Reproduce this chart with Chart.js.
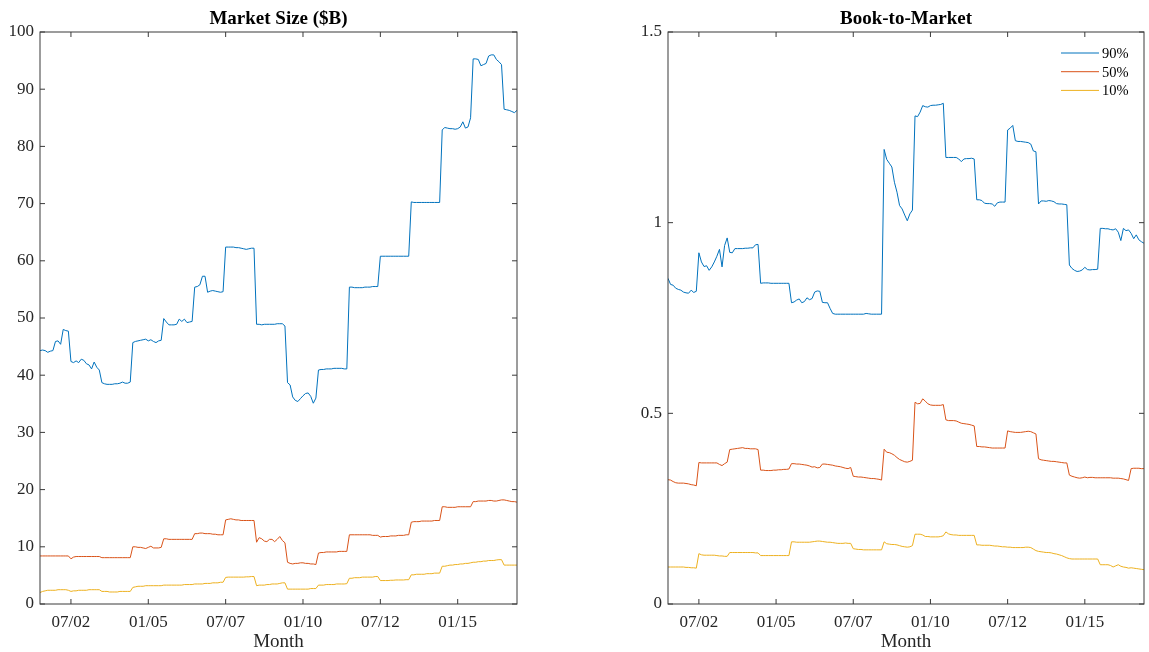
<!DOCTYPE html>
<html>
<head>
<meta charset="utf-8">
<script src="https://cdn.jsdelivr.net/npm/chart.js@4.4.1/dist/chart.umd.min.js"></script>
<style>
  html, body { margin: 0; padding: 0; background: #fff; }
  #wrap { position: relative; width: 1149px; height: 652px; }
  .panel { position: absolute; top: 0; height: 652px; }
  #left { left: 0; width: 560px; }
  #right { left: 580px; width: 569px; }
</style>
</head>
<body>
<div id="wrap">
  <div class="panel" id="left"><canvas id="sizeChart"></canvas></div>
  <div class="panel" id="right"><canvas id="btmChart"></canvas></div>
</div>
<script>
// Series : percentiles 90 / 50 / 10, un point par mois à partir de 07/2001
var seriesNames = ['90%', '50%', '10%'];
var seriesColors = ['#0072BD', '#D95319', '#EDB120'];
var tickLabels = ['07/02', '01/05', '07/07', '01/10', '07/12', '01/15'];

// Market Size ($B)
var size90 = [
  44.3,44.4,44.3,44.0,44.2,44.3,45.9,46.0,45.4,48.0,47.8,47.7,
  42.4,42.2,42.5,42.2,42.8,42.6,42.0,41.8,41.1,42.3,41.4,40.9,
  38.7,38.5,38.4,38.4,38.4,38.5,38.5,38.6,38.8,38.6,38.6,38.8,
  45.7,45.9,46.0,46.1,46.2,46.3,46.0,46.2,45.9,45.7,46.0,46.1,
  49.9,49.3,48.8,48.8,48.8,48.9,49.8,49.4,49.8,49.2,49.3,49.4,
  55.4,55.5,55.8,57.3,57.3,54.5,54.7,54.8,54.7,54.6,54.5,54.6,
  62.4,62.4,62.4,62.4,62.3,62.3,62.2,62.1,62.0,62.1,62.2,62.2,
  48.9,48.9,48.8,48.9,48.9,48.9,48.9,48.9,49.0,49.0,49.0,48.6,
  38.7,38.3,36.2,35.6,35.4,35.9,36.4,36.8,36.9,36.3,35.1,36.0,
  40.9,41.0,41.0,41.1,41.1,41.1,41.2,41.2,41.2,41.2,41.1,41.1,
  55.4,55.4,55.3,55.3,55.3,55.3,55.4,55.4,55.4,55.5,55.5,55.5,
  60.8,60.8,60.8,60.8,60.8,60.8,60.8,60.8,60.8,60.8,60.8,60.8,
  70.3,70.2,70.2,70.2,70.2,70.2,70.2,70.2,70.2,70.2,70.2,70.2,
  82.9,83.3,83.2,83.1,83.1,83.0,83.1,83.4,84.3,83.2,83.4,85.0,
  95.3,95.3,95.2,94.1,94.3,94.5,95.8,96.0,96.0,95.2,94.8,94.3,
  86.5,86.4,86.3,86.1,85.9,86.3
];
var size50 = [
  8.4,8.4,8.4,8.4,8.4,8.4,8.4,8.4,8.4,8.4,8.4,8.4,
  7.9,8.2,8.3,8.3,8.3,8.3,8.3,8.3,8.3,8.3,8.3,8.3,
  8.1,8.1,8.1,8.1,8.1,8.1,8.1,8.1,8.1,8.1,8.1,8.1,
  10.0,10.0,9.9,9.9,9.8,9.7,9.9,10.1,9.8,9.8,9.8,9.9,
  11.4,11.4,11.3,11.3,11.3,11.3,11.3,11.3,11.3,11.3,11.3,11.3,
  12.3,12.3,12.4,12.4,12.3,12.3,12.3,12.2,12.2,12.1,12.1,12.1,
  14.7,14.8,14.9,14.8,14.7,14.7,14.6,14.6,14.6,14.6,14.6,14.6,
  10.8,11.6,11.4,11.0,10.9,11.3,11.3,10.9,11.3,11.8,11.1,10.7,
  7.3,7.1,7.0,7.1,7.1,7.2,7.2,7.1,7.1,7.0,7.0,6.9,
  8.9,9.0,9.0,9.1,9.1,9.1,9.1,9.1,9.2,9.2,9.2,9.2,
  12.1,12.1,12.1,12.1,12.1,12.1,12.1,12.1,12.1,12.0,12.0,12.0,
  11.7,11.8,11.8,11.8,11.9,11.9,11.9,12.0,12.0,12.0,12.1,12.1,
  14.3,14.4,14.4,14.4,14.5,14.5,14.5,14.5,14.5,14.6,14.6,14.6,
  17.0,17.0,16.9,16.9,16.9,16.9,17.0,17.0,17.0,17.0,17.0,17.0,
  17.9,17.9,18.0,18.0,18.0,18.0,18.1,18.1,18.0,18.0,18.1,18.2,
  18.2,18.1,18.0,17.9,17.9,17.8
];
var size10 = [
  2.0,2.2,2.3,2.4,2.4,2.4,2.4,2.5,2.5,2.5,2.5,2.4,
  2.2,2.3,2.3,2.4,2.4,2.4,2.4,2.5,2.5,2.5,2.5,2.5,
  2.2,2.2,2.2,2.1,2.1,2.1,2.1,2.2,2.2,2.2,2.2,2.2,
  2.9,3.0,3.1,3.1,3.1,3.2,3.2,3.2,3.2,3.2,3.2,3.2,
  3.3,3.3,3.3,3.3,3.3,3.3,3.3,3.3,3.4,3.4,3.4,3.4,
  3.5,3.5,3.5,3.5,3.6,3.6,3.6,3.7,3.7,3.7,3.8,3.8,
  4.65,4.7,4.7,4.7,4.7,4.7,4.7,4.7,4.75,4.75,4.8,4.8,
  3.2,3.3,3.3,3.3,3.4,3.4,3.5,3.5,3.5,3.6,3.7,3.7,
  2.6,2.6,2.6,2.6,2.6,2.6,2.6,2.6,2.6,2.7,2.7,2.7,
  3.3,3.3,3.3,3.4,3.4,3.4,3.4,3.5,3.5,3.5,3.5,3.55,
  4.5,4.5,4.6,4.6,4.6,4.7,4.7,4.7,4.7,4.7,4.8,4.8,
  4.1,4.1,4.1,4.1,4.15,4.15,4.2,4.2,4.2,4.2,4.25,4.25,
  5.1,5.1,5.2,5.2,5.2,5.2,5.3,5.3,5.3,5.4,5.4,5.4,
  6.6,6.6,6.7,6.8,6.8,6.9,6.9,7.0,7.0,7.1,7.1,7.2,
  7.3,7.3,7.4,7.4,7.5,7.5,7.6,7.6,7.6,7.7,7.75,7.75,
  6.8,6.8,6.8,6.8,6.8,6.8
];

// Book-to-Market
var btm90 = [
  0.854,0.838,0.836,0.828,0.825,0.823,0.818,0.816,0.815,0.823,0.817,0.820,
  0.921,0.897,0.885,0.887,0.875,0.884,0.897,0.912,0.930,0.884,0.940,0.960,
  0.922,0.921,0.932,0.932,0.932,0.932,0.933,0.933,0.934,0.934,0.942,0.943,
  0.841,0.842,0.842,0.842,0.841,0.841,0.841,0.841,0.841,0.841,0.841,0.841,
  0.790,0.792,0.797,0.800,0.790,0.793,0.803,0.798,0.801,0.818,0.821,0.820,
  0.791,0.790,0.790,0.775,0.762,0.760,0.760,0.760,0.760,0.760,0.760,0.760,
  0.760,0.760,0.760,0.760,0.760,0.762,0.761,0.760,0.760,0.760,0.760,0.760,
  1.192,1.166,1.156,1.146,1.106,1.080,1.045,1.036,1.020,1.005,1.023,1.033,
  1.280,1.278,1.290,1.307,1.304,1.303,1.307,1.308,1.308,1.309,1.310,1.313,
  1.171,1.171,1.171,1.171,1.171,1.167,1.160,1.167,1.168,1.168,1.169,1.167,
  1.060,1.060,1.058,1.051,1.050,1.050,1.049,1.043,1.052,1.054,1.054,1.054,
  1.243,1.248,1.255,1.215,1.213,1.213,1.212,1.211,1.210,1.206,1.188,1.186,
  1.049,1.057,1.057,1.056,1.058,1.057,1.055,1.050,1.049,1.049,1.048,1.047,
  0.889,0.880,0.875,0.872,0.873,0.876,0.883,0.877,0.876,0.877,0.877,0.878,
  0.985,0.985,0.984,0.984,0.982,0.981,0.984,0.975,0.953,0.985,0.979,0.981,
  0.972,0.958,0.968,0.955,0.950,0.946
];
var btm50 = [
  0.326,0.325,0.321,0.318,0.317,0.317,0.317,0.316,0.315,0.313,0.312,0.310,
  0.371,0.370,0.370,0.370,0.370,0.370,0.370,0.370,0.366,0.363,0.368,0.372,
  0.405,0.406,0.407,0.408,0.409,0.410,0.408,0.408,0.407,0.407,0.407,0.405,
  0.351,0.351,0.350,0.350,0.350,0.351,0.351,0.352,0.352,0.353,0.353,0.354,
  0.368,0.368,0.367,0.367,0.366,0.365,0.364,0.362,0.359,0.360,0.357,0.358,
  0.367,0.367,0.366,0.365,0.364,0.362,0.361,0.360,0.358,0.356,0.355,0.358,
  0.335,0.334,0.333,0.333,0.332,0.331,0.330,0.329,0.329,0.328,0.327,0.325,
  0.406,0.398,0.397,0.394,0.390,0.384,0.379,0.376,0.373,0.372,0.374,0.377,
  0.529,0.525,0.526,0.538,0.532,0.525,0.522,0.521,0.521,0.521,0.521,0.523,
  0.483,0.481,0.481,0.481,0.480,0.477,0.474,0.473,0.472,0.471,0.469,0.467,
  0.413,0.413,0.412,0.412,0.411,0.410,0.409,0.409,0.409,0.409,0.409,0.409,
  0.454,0.452,0.451,0.450,0.450,0.450,0.451,0.452,0.453,0.452,0.449,0.446,
  0.381,0.378,0.377,0.376,0.375,0.374,0.374,0.373,0.372,0.371,0.370,0.370,
  0.338,0.335,0.333,0.331,0.330,0.331,0.333,0.331,0.332,0.332,0.331,0.331,
  0.331,0.331,0.331,0.331,0.331,0.330,0.330,0.330,0.329,0.328,0.326,0.324,
  0.355,0.356,0.356,0.356,0.355,0.355
];
var btm10 = [
  0.097,0.097,0.097,0.097,0.097,0.097,0.097,0.096,0.096,0.095,0.095,0.094,
  0.132,0.129,0.128,0.128,0.128,0.128,0.128,0.127,0.126,0.126,0.125,0.125,
  0.135,0.135,0.135,0.135,0.135,0.135,0.135,0.135,0.135,0.135,0.134,0.134,
  0.127,0.127,0.127,0.127,0.127,0.127,0.127,0.127,0.127,0.127,0.127,0.127,
  0.163,0.163,0.162,0.162,0.162,0.162,0.162,0.162,0.163,0.164,0.165,0.165,
  0.164,0.163,0.162,0.162,0.161,0.160,0.159,0.159,0.159,0.160,0.159,0.159,
  0.145,0.144,0.143,0.143,0.142,0.142,0.142,0.142,0.142,0.142,0.142,0.142,
  0.163,0.158,0.157,0.156,0.156,0.155,0.153,0.151,0.150,0.149,0.150,0.153,
  0.183,0.183,0.183,0.181,0.177,0.177,0.176,0.176,0.176,0.176,0.177,0.179,
  0.189,0.184,0.182,0.181,0.181,0.180,0.180,0.180,0.180,0.180,0.180,0.180,
  0.155,0.155,0.154,0.154,0.154,0.154,0.153,0.152,0.152,0.151,0.150,0.150,
  0.149,0.149,0.148,0.148,0.148,0.148,0.148,0.149,0.149,0.148,0.144,0.140,
  0.138,0.137,0.136,0.135,0.135,0.134,0.132,0.131,0.129,0.127,0.124,0.121,
  0.119,0.118,0.118,0.118,0.118,0.118,0.118,0.118,0.118,0.118,0.118,0.118,
  0.103,0.103,0.103,0.103,0.101,0.097,0.100,0.103,0.099,0.097,0.096,0.094,
  0.095,0.094,0.093,0.092,0.091,0.090
];

// Libellés des mois (MM/AA) à partir de 07/2001
var months = [];
for (var k = 0; k < size90.length; k++) {
    var m = (6 + k) % 12 + 1;
    var yr = 2001 + Math.floor((6 + k) / 12);
    months.push(String(m).padStart(2, '0') + '/' + String(yr % 100).padStart(2, '0'));
}
var tickIdx = tickLabels.map(function(l) { return months.indexOf(l); });

var serif = "'Liberation Serif', 'Times New Roman', serif";

//Cadre façon MATLAB : boîte fermée et graduations vers l'intérieur
var boxAxes = {
    id: 'boxAxes',
    afterDraw: function(chart) {
        var ctx = chart.ctx, a = chart.chartArea;
        var xs = chart.scales.x, ys = chart.scales.y;
        var len = 5;
        ctx.save();
        ctx.strokeStyle = '#3a3a3a';
        ctx.lineWidth = 1;
        ctx.strokeRect(a.left, a.top, a.right - a.left, a.bottom - a.top);
        ctx.beginPath();
        xs.ticks.forEach(function(t) {
            var px = xs.getPixelForValue(t.value);
            ctx.moveTo(px, a.bottom); ctx.lineTo(px, a.bottom - len);
            ctx.moveTo(px, a.top); ctx.lineTo(px, a.top + len);
        });
        ys.ticks.forEach(function(t) {
            var py = ys.getPixelForValue(t.value);
            ctx.moveTo(a.left, py); ctx.lineTo(a.left + len, py);
            ctx.moveTo(a.right, py); ctx.lineTo(a.right - len, py);
        });
        ctx.stroke();
        ctx.restore();
    }
};

//Légende dans le coin haut droit, sans cadre
var cornerLegend = {
    id: 'cornerLegend',
    afterDraw: function(chart) {
        if (!chart.options.plugins.cornerLegend || !chart.options.plugins.cornerLegend.show) return;
        var ctx = chart.ctx, a = chart.chartArea;
        ctx.save();
        ctx.font = "14.5px " + serif;
        ctx.textBaseline = 'middle';
        ctx.textAlign = 'left';
        chart.data.datasets.forEach(function(ds, i) {
            var y = a.top + 21 + i * 18.7;
            ctx.strokeStyle = ds.borderColor;
            ctx.lineWidth = 1;
            ctx.beginPath();
            ctx.moveTo(a.right - 83, y);
            ctx.lineTo(a.right - 45, y);
            ctx.stroke();
            ctx.fillStyle = '#000';
            ctx.fillText(ds.label, a.right - 42, y + 1);
        });
        ctx.restore();
    }
};

function makeDatasets(list) {
    return list.map(function(values, i) {
        return {
            label: seriesNames[i],
            data: values.map(function(v, j) { return { x: j, y: v }; }),
            borderColor: seriesColors[i],
            backgroundColor: seriesColors[i],
            borderWidth: 1,
            pointRadius: 0,
            tension: 0,
            fill: false
        };
    });
}

function makePanel(canvasId, titleText, list, yMax, yStep, yWidth, padRight, legend) {
    var ctx = document.getElementById(canvasId).getContext('2d');
    return new Chart(ctx, {
        type: 'line',
        data: { datasets: makeDatasets(list) },
        options: {
            responsive: true,
            maintainAspectRatio: false,
            animation: false,
            devicePixelRatio: 1,
            layout: { padding: { left: 0, right: padRight, top: 0, bottom: 0 } },
            plugins: {
                legend: { display: false },
                tooltip: { enabled: false },
                cornerLegend: { show: legend },
                title: {
                    display: true,
                    text: titleText,
                    fullSize: false,
                    color: '#000',
                    font: { family: serif, size: 19, weight: 'bold', lineHeight: 1.2 },
                    padding: { top: 8, bottom: 1.2 }
                }
            },
            scales: {
                x: {
                    type: 'linear',
                    min: 0,
                    max: months.length - 1,
                    afterBuildTicks: function(s) {
                        s.ticks = tickIdx.map(function(v) { return { value: v }; });
                    },
                    afterFit: function(s) { s.height = 48; },
                    grid: { display: false, drawTicks: false },
                    border: { display: false },
                    ticks: {
                        autoSkip: false,
                        maxRotation: 0,
                        padding: 8,
                        color: '#262626',
                        font: { family: serif, size: 17 },
                        callback: function(v) { return months[v]; }
                    },
                    title: {
                        display: true,
                        text: 'Month',
                        color: '#262626',
                        font: { family: serif, size: 19, lineHeight: 1 },
                        padding: 0
                    }
                },
                y: {
                    min: 0,
                    max: yMax,
                    afterFit: function(s) { s.width = yWidth; },
                    grid: { display: false, drawTicks: false },
                    border: { display: false },
                    ticks: {
                        stepSize: yStep,
                        padding: 6,
                        color: '#262626',
                        font: { family: serif, size: 17 },
                        //Pas de zéro final (1 et non 1.0)
                        callback: function(v) { return String(Math.round(v * 100) / 100); }
                    }
                }
            }
        },
        plugins: [boxAxes, cornerLegend]
    });
}

makePanel('sizeChart', 'Market Size ($B)', [size90, size50, size10], 100, 10, 40, 43, false);
makePanel('btmChart', 'Book-to-Market', [btm90, btm50, btm10], 1.5, 0.5, 88, 5, true);
</script>
</body>
</html>
